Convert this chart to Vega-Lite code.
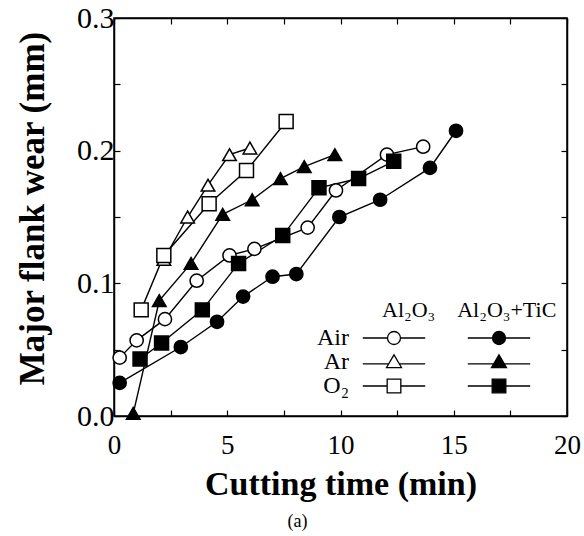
{
  "$schema": "https://vega.github.io/schema/vega-lite/v6.json",
  "width": 453,
  "height": 398,
  "autosize": {"type": "none"},
  "padding": {"left": 114, "top": 18, "right": 17, "bottom": 120},
  "background": "white",
  "title": {"text": "(a)", "orient": "bottom", "anchor": "middle", "dx": -43, "font": "Liberation Serif", "fontSize": 18, "fontWeight": "normal", "color": "black", "offset": 12},
  "config": {
    "view": {"stroke": "black", "strokeWidth": 1.5},
    "axis": {
      "grid": false,
      "domainColor": "black",
      "domainWidth": 1.5,
      "tickColor": "black",
      "tickWidth": 1.2,
      "tickSize": -6,
      "labelFont": "Liberation Serif",
      "labelFontSize": 27,
      "labelColor": "black",
      "labelFlush": false,
      "labelOverlap": false,
      "titleFont": "Liberation Serif",
      "titleFontSize": 34,
      "titleFontWeight": "bold",
      "titleColor": "black"
    }
  },
  "datasets": {
    "wear": [
      {"mat": "Al₂O₃", "atm": "Air", "t": 0.25, "w": 0.044},
      {"mat": "Al₂O₃", "atm": "Air", "t": 1.0, "w": 0.057},
      {"mat": "Al₂O₃", "atm": "Air", "t": 2.25, "w": 0.073},
      {"mat": "Al₂O₃", "atm": "Air", "t": 3.65, "w": 0.102},
      {"mat": "Al₂O₃", "atm": "Air", "t": 5.1, "w": 0.121},
      {"mat": "Al₂O₃", "atm": "Air", "t": 6.2, "w": 0.126},
      {"mat": "Al₂O₃", "atm": "Air", "t": 8.55, "w": 0.142},
      {"mat": "Al₂O₃", "atm": "Air", "t": 9.8, "w": 0.17},
      {"mat": "Al₂O₃", "atm": "Air", "t": 12.05, "w": 0.197},
      {"mat": "Al₂O₃", "atm": "Air", "t": 13.65, "w": 0.203},
      {"mat": "Al₂O₃+TiC", "atm": "Air", "t": 0.25, "w": 0.025},
      {"mat": "Al₂O₃+TiC", "atm": "Air", "t": 2.95, "w": 0.052},
      {"mat": "Al₂O₃+TiC", "atm": "Air", "t": 4.55, "w": 0.071},
      {"mat": "Al₂O₃+TiC", "atm": "Air", "t": 5.7, "w": 0.09},
      {"mat": "Al₂O₃+TiC", "atm": "Air", "t": 7.0, "w": 0.105},
      {"mat": "Al₂O₃+TiC", "atm": "Air", "t": 8.05, "w": 0.107},
      {"mat": "Al₂O₃+TiC", "atm": "Air", "t": 9.95, "w": 0.15},
      {"mat": "Al₂O₃+TiC", "atm": "Air", "t": 11.75, "w": 0.163},
      {"mat": "Al₂O₃+TiC", "atm": "Air", "t": 13.95, "w": 0.187},
      {"mat": "Al₂O₃+TiC", "atm": "Air", "t": 15.1, "w": 0.215},
      {"mat": "Al₂O₃", "atm": "Ar", "t": 2.2, "w": 0.118},
      {"mat": "Al₂O₃", "atm": "Ar", "t": 3.25, "w": 0.15},
      {"mat": "Al₂O₃", "atm": "Ar", "t": 4.15, "w": 0.174},
      {"mat": "Al₂O₃", "atm": "Ar", "t": 5.1, "w": 0.197},
      {"mat": "Al₂O₃", "atm": "Ar", "t": 6.0, "w": 0.202},
      {"mat": "Al₂O₃+TiC", "atm": "Ar", "t": 0.85, "w": 0.002},
      {"mat": "Al₂O₃+TiC", "atm": "Ar", "t": 2.0, "w": 0.087},
      {"mat": "Al₂O₃+TiC", "atm": "Ar", "t": 3.4, "w": 0.115},
      {"mat": "Al₂O₃+TiC", "atm": "Ar", "t": 4.8, "w": 0.152},
      {"mat": "Al₂O₃+TiC", "atm": "Ar", "t": 6.1, "w": 0.163},
      {"mat": "Al₂O₃+TiC", "atm": "Ar", "t": 7.35, "w": 0.179},
      {"mat": "Al₂O₃+TiC", "atm": "Ar", "t": 8.4, "w": 0.188},
      {"mat": "Al₂O₃+TiC", "atm": "Ar", "t": 9.75, "w": 0.197},
      {"mat": "Al₂O₃", "atm": "O₂", "t": 1.2, "w": 0.08},
      {"mat": "Al₂O₃", "atm": "O₂", "t": 2.2, "w": 0.121},
      {"mat": "Al₂O₃", "atm": "O₂", "t": 4.2, "w": 0.16},
      {"mat": "Al₂O₃", "atm": "O₂", "t": 5.85, "w": 0.185},
      {"mat": "Al₂O₃", "atm": "O₂", "t": 7.6, "w": 0.222},
      {"mat": "Al₂O₃+TiC", "atm": "O₂", "t": 1.15, "w": 0.043},
      {"mat": "Al₂O₃+TiC", "atm": "O₂", "t": 2.1, "w": 0.055},
      {"mat": "Al₂O₃+TiC", "atm": "O₂", "t": 3.9, "w": 0.08},
      {"mat": "Al₂O₃+TiC", "atm": "O₂", "t": 5.5, "w": 0.115},
      {"mat": "Al₂O₃+TiC", "atm": "O₂", "t": 7.45, "w": 0.136},
      {"mat": "Al₂O₃+TiC", "atm": "O₂", "t": 9.05, "w": 0.172},
      {"mat": "Al₂O₃+TiC", "atm": "O₂", "t": 10.8, "w": 0.179},
      {"mat": "Al₂O₃+TiC", "atm": "O₂", "t": 12.35, "w": 0.192}
    ]
  },
  "layer": [
    {
      "data": {"name": "wear"},
      "mark": {"type": "line", "color": "black", "strokeWidth": 1.4},
      "encoding": {
        "x": {
          "field": "t", "type": "quantitative",
          "scale": {"domain": [0, 20], "nice": false},
          "axis": {
            "orient": "bottom",
            "values": [0, 2.5, 5, 7.5, 10, 12.5, 15, 17.5, 20],
            "labelExpr": "datum.value % 5 == 0 ? datum.label : ''",
            "labelPadding": 22,
            "title": "Cutting time (min)",
            "titlePadding": 9
          }
        },
        "y": {
          "field": "w", "type": "quantitative",
          "scale": {"domain": [0, 0.3], "nice": false},
          "axis": {
            "orient": "left",
            "values": [0, 0.05, 0.1, 0.15, 0.2, 0.25, 0.3],
            "labelExpr": "round(datum.value * 100) % 10 == 0 ? format(datum.value, '.1f') : ''",
            "labelPadding": 6,
            "labelFontSize": 30,
            "title": "Major flank wear (mm)",
            "titleFontSize": 35,
            "titleY": 190,
            "titlePadding": 26
          }
        },
        "detail": [{"field": "atm"}, {"field": "mat"}]
      }
    },
    {
      "data": {"name": "wear"},
      "mark": {"type": "point", "filled": true, "stroke": "black", "strokeWidth": 1.5, "opacity": 1},
      "encoding": {
        "x": {
          "field": "t", "type": "quantitative",
          "axis": {"orient": "top", "labels": false, "title": null, "values": [0, 2.5, 5, 7.5, 10, 12.5, 15, 17.5, 20]}
        },
        "y": {
          "field": "w", "type": "quantitative",
          "axis": {"orient": "right", "labels": false, "title": null, "values": [0, 0.05, 0.1, 0.15, 0.2, 0.25, 0.3]}
        },
        "shape": {
          "field": "atm", "type": "nominal",
          "scale": {"domain": ["Air", "Ar", "O₂"], "range": ["circle", "triangle-up", "square"]},
          "legend": null
        },
        "size": {
          "field": "atm", "type": "nominal",
          "scale": {"domain": ["Air", "Ar", "O₂"], "range": [175, 195, 235]},
          "legend": null
        },
        "fill": {
          "field": "mat", "type": "nominal",
          "scale": {"domain": ["Al₂O₃", "Al₂O₃+TiC"], "range": ["white", "black"]},
          "legend": null
        }
      }
    },
    {
      "data": {"name": "wear"},
      "transform": [{"filter": "false"}],
      "mark": {"type": "point", "filled": true, "stroke": "black", "strokeWidth": 1.3, "opacity": 1},
      "encoding": {
        "shape": {
          "field": "key", "type": "nominal",
          "scale": {
            "domain": ["Air|Al₂O₃", "Ar|Al₂O₃", "O₂|Al₂O₃", "Air|Al₂O₃+TiC", "Ar|Al₂O₃+TiC", "O₂|Al₂O₃+TiC"],
            "range": [
              "M-4.8,0H-1M1,0H4.8M-1,0A1,1 0 1,0 1,0A1,1 0 1,0 -1,0Z",
              "M-4.8,0.3H-0.83M0.83,0.3H4.8M0,-1.1L1.15,0.85H-1.15Z",
              "M-4.8,0H-1.05M1.05,0H4.8M-1.05,-1.05H1.05V1.05H-1.05Z",
              "M-4.8,0H-1M1,0H4.8M-1,0A1,1 0 1,0 1,0A1,1 0 1,0 -1,0Z",
              "M-4.8,0.3H-0.83M0.83,0.3H4.8M0,-1.1L1.15,0.85H-1.15Z",
              "M-4.8,0H-1.05M1.05,0H4.8M-1.05,-1.05H1.05V1.05H-1.05Z"
            ]
          },
          "legend": {
            "orient": "none",
            "legendX": 268,
            "legendY": 282,
            "columns": 2,
            "columnPadding": 26,
            "rowPadding": 0,
            "title": "Al₂O₃\u00a0\u00a0\u00a0\u00a0Al₂O₃+TiC",
            "titleFont": "Liberation Serif",
            "titleFontSize": 22,
            "titleFontWeight": "normal",
            "titleColor": "black",
            "titleLimit": 400,
            "titlePadding": 4,
            "labelExpr": "indexof(datum.label, 'TiC') >= 0 ? '' : split(datum.label, '|')[0]",
            "labelAlign": "right",
            "labelOffset": -57,
            "labelFont": "Liberation Serif",
            "labelFontSize": 24,
            "labelColor": "black",
            "symbolSize": 169,
            "symbolOpacity": 1,
            "symbolStrokeColor": "black",
            "symbolStrokeWidth": 1.3
          }
        },
        "fill": {
          "field": "key", "type": "nominal",
          "scale": {
            "domain": ["Air|Al₂O₃", "Ar|Al₂O₃", "O₂|Al₂O₃", "Air|Al₂O₃+TiC", "Ar|Al₂O₃+TiC", "O₂|Al₂O₃+TiC"],
            "range": ["white", "white", "white", "black", "black", "black"]
          }
        },
        "stroke": {
          "field": "key", "type": "nominal",
          "scale": {
            "domain": ["Air|Al₂O₃", "Ar|Al₂O₃", "O₂|Al₂O₃", "Air|Al₂O₃+TiC", "Ar|Al₂O₃+TiC", "O₂|Al₂O₃+TiC"],
            "range": ["black", "black", "black", "black", "black", "black"]
          }
        }
      }
    }
  ],
  "resolve": {
    "scale": {"shape": "independent", "fill": "independent", "size": "independent", "stroke": "independent"},
    "axis": {"x": "independent", "y": "independent"}
  }
}
